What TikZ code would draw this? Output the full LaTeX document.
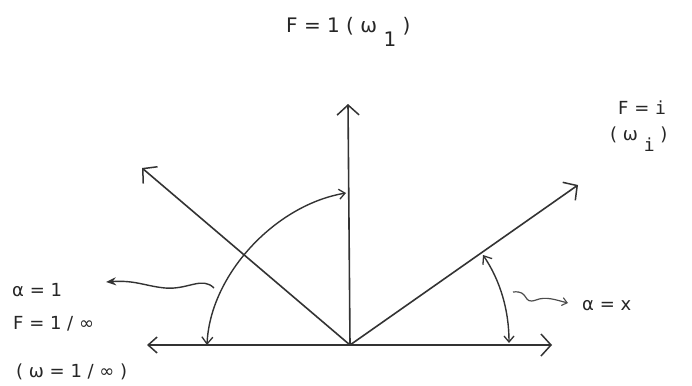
\documentclass[tikz,border=0pt]{standalone}
\usepackage{fontspec}
\setmainfont{DejaVu Sans}
\newfontfamily\tymono{DejaVu Sans Mono}
\usetikzlibrary{arrows.meta}
\begin{document}
\begin{tikzpicture}[x=1pt,y=-1pt,
  axis/.style={draw=black!80,line width=1.6pt,-{Straight Barb[length=10pt,width=22pt,line width=1.5pt]}},
  axisL/.style={draw=black!80,line width=1.6pt,-{Straight Barb[length=9pt,width=16pt,line width=1.5pt]}},
  arcarrow/.style={draw=black!80,line width=1.4pt,{Straight Barb[length=7pt,width=11pt,line width=1.3pt]}-{Straight Barb[length=6pt,width=10pt,line width=1.3pt]}},
  wavyA/.style={draw=black!80,line width=1.4pt,-{Stealth[length=10pt,width=8pt]}},
  wavyB/.style={draw=black!70,line width=1.2pt,-{Straight Barb[length=5pt,width=8pt,line width=1.1pt]}},
  lbl/.style={font=\fontsize{18}{20}\selectfont,text=black!85,inner sep=0pt}]
\useasboundingbox (0,0) rectangle (692,385);
\fill[white] (0,0) rectangle (692,385);
% points
\coordinate (O) at (350,345);
\coordinate (top) at (348,104);
\coordinate (ul) at (142,168);
\coordinate (ur) at (578,185);
\coordinate (lft) at (147,345);
\coordinate (rgt) at (552,345);
\coordinate (la1) at (207,345);
\coordinate (la2) at (346,193);
\coordinate (ra1) at (483,255);
\coordinate (ra2) at (509,343);
\coordinate (wl0) at (214,288);
\coordinate (wl1) at (106,282);
\coordinate (wr0) at (513,292);
\coordinate (wr1) at (568,303);
% axes
\draw[axisL] (O) -- (lft);
\draw[axis] (O) -- (rgt);
\draw[axis] (O) -- (top);
\draw[axis] (O) -- (ul);
\draw[axis] (O) -- (ur);
% arcs
\draw[arcarrow] (la1) .. controls (210,275) and (275,205) .. (la2);
\draw[arcarrow] (ra1) .. controls (500.7,281.3) and (509,311) .. (ra2);
% wavy arrows
\draw[wavyA] (wl0) .. controls (202,276) and (188,290) .. (165,288) .. controls (145,286) and (135,280) .. (wl1);
\draw[wavyB] (wr0) .. controls (530,290) and (522,305) .. (536,300) .. controls (546,296) and (556,300) .. (wr1);
% labels
\node[lbl,font=\fontsize{20}{22}\selectfont,anchor=base west] (t1) at (286,33) {F = 1 ( ω\raisebox{-14pt}{ 1} )};
\node[lbl,anchor=base west] (t2) at (618,114) {F = {\tymono i}};
\node[lbl,anchor=base west] (t3) at (610,140) {( ω\raisebox{-11pt}{ \tymono i} )};
\node[lbl,anchor=base west] (t4) at (12,296) {α = 1};
\node[lbl,anchor=base west] (t5) at (13,329) {F = 1 / ∞};
\node[lbl,anchor=base west] (t6) at (16,377) {( ω = 1 / ∞ )};
\node[lbl,anchor=base west] (t7) at (582,310) {α = x};
\end{tikzpicture}
\end{document}
